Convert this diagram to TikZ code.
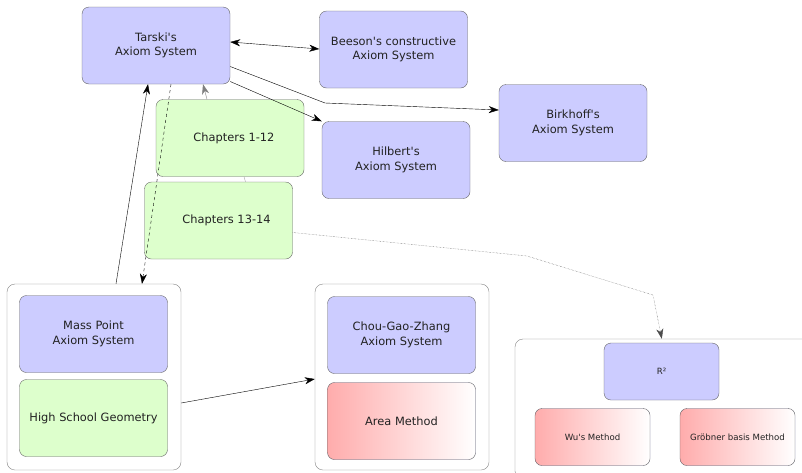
\documentclass[tikz,border=0pt]{standalone}
\usepackage{fontspec}
\setmainfont{DejaVu Sans}[Ligatures=TeXOff]
\usetikzlibrary{arrows.meta,calc}

\definecolor{axiomblue}{RGB}{204,204,255}
\definecolor{chaptergreen}{RGB}{221,255,204}
\definecolor{methodred}{RGB}{255,172,172}
\definecolor{boxline}{RGB}{100,100,100}
\definecolor{textgray}{RGB}{34,34,34}

\begin{document}
\begin{tikzpicture}[x=1pt,y=-1pt,
  axiom/.style={draw=boxline, fill=axiomblue, rounded corners=7pt,
    minimum width=148pt, minimum height=77pt, inner sep=0pt,
    align=center, text=textgray, font=\fontsize{11.4}{14.5}\selectfont},
  chapter/.style={axiom, fill=chaptergreen},
  method/.style={axiom, left color=methodred, right color=white},
  small/.style={minimum width=115pt, minimum height=57pt,
    font=\fontsize{8.6}{10}\selectfont},
  group/.style={draw=boxline!80, fill=white, rounded corners=8pt, inner sep=0pt},
  link/.style={-{Stealth[length=10pt,width=7pt,inset=3pt]}}
]

  % Fix the page size
  \useasboundingbox (0,0) rectangle (802,472);
  \clip (0,0) rectangle (802,472);

  % Draw the three groups at the bottom
  \node[group, minimum width=174pt, minimum height=186pt] (leftbox) at (94,377) {};
  \node[group, minimum width=174pt, minimum height=186pt] (midbox) at (402,377) {};
  \node[group, minimum width=300pt, minimum height=140pt] (rightbox) at (665,409) {};

  % Axiom systems at the top
  \node[axiom] (tarski) at (156,45.5) {Tarski's\\Axiom System};
  \node[axiom] (beeson) at (393.5,49.5) {Beeson's constructive\\Axiom System};
  \node[axiom] (birkhoff) at (573,123) {Birkhoff's\\Axiom System};
  \node[axiom] (hilbert) at (396,160) {Hilbert's\\Axiom System};

  % The chapters (text sits a bit right of centre)
  \node[chapter, inner xsep=0pt] (ch1) at (230,138) {\hspace*{8pt}Chapters 1-12};
  \node[chapter] (ch2) at (218.5,220.5) {\hspace*{16pt}Chapters 13-14};

  % Left group
  \node[axiom] (mass) at (93.5,334) {Mass Point\\Axiom System};
  \node[chapter] (school) at (93.5,418) {High School Geometry};

  % Middle group
  \node[axiom] (chou) at (401.5,335) {Chou-Gao-Zhang\\Axiom System};
  \node[method] (area) at (401.5,421) {Area Method};

  % Right group
  \node[axiom, small] (rtwo) at (661.5,371.5) {R²};
  \node[method, small] (wu) at (592.5,437) {Wu's Method};
  \node[method, small] (groebner) at (737.5,437) {Gröbner basis Method};

  % Bends of the longer connectors
  \coordinate (bendA) at (325,103);
  \coordinate (bendB) at (527,256);
  \coordinate (bendC) at (653,295);

  % Connectors from Tarski's system
  \draw[{Stealth[length=10pt,width=7pt,inset=3pt]}-{Stealth[length=10pt,width=7pt,inset=3pt]}]
    ($(tarski.east)+(0,-3.5)$) -- ($(beeson.west)+(0,-0.5)$);
  \draw[link] ($(tarski.east)+(0,21)$) -- (bendA) -- ($(birkhoff.west)+(0,-13)$);
  \draw[link] ($(tarski.east)+(0,36)$) -- (hilbert.north west);

  % Between the groups and Tarski's system
  \draw[link] ($(leftbox.north)+(22,0)$) -- ($(tarski.south)+(-8,0)$);
  \draw[link, dashed] ($(tarski.south)+(15,0)$) -- ($(leftbox.north)+(48,0)$);
  \draw[link, gray] ($(ch1.north)+(-23,0)$) -- ($(tarski.south)+(47,0)$);
  \draw[gray!70] ($(ch1.south)+(14,0)$) -- ($(ch2.north)+(27,0)$);

  % Chapters 13-14 to the right group
  \draw[link, gray!60!black, densely dotted] ($(ch2.east)+(0,12)$) -- (bendB) -- (bendC)
    -- ($(rightbox.north west)+(147,0)$);

  % High school geometry to the middle group
  \draw[link] ($(leftbox.east)+(0,26)$) -- ($(midbox.west)+(0,2)$);

\end{tikzpicture}
\end{document}
